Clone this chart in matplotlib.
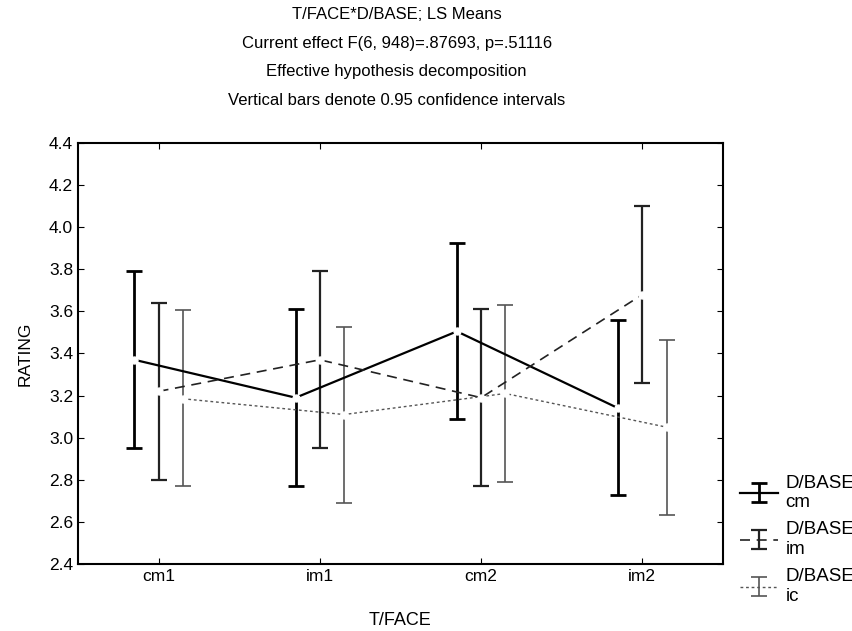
import matplotlib
matplotlib.use("Agg")
import matplotlib.pyplot as plt
import numpy as np

plt.rcParams['font.family'] = ['Liberation Sans', 'DejaVu Sans']

faces = ["cm1", "im1", "cm2", "im2"]

# D/BASE = cm
cm_mean = [3.37, 3.19, 3.505, 3.14]
cm_low = [2.95, 2.77, 3.09, 2.73]
cm_high = [3.79, 3.61, 3.925, 3.56]

# D/BASE = im
im_mean = [3.22, 3.37, 3.19, 3.68]
im_low = [2.80, 2.95, 2.77, 3.26]
im_high = [3.64, 3.79, 3.61, 4.10]

# D/BASE = ic
ic_mean = [3.185, 3.11, 3.21, 3.05]
ic_low = [2.77, 2.69, 2.79, 2.635]
ic_high = [3.605, 3.525, 3.63, 3.465]

x = np.arange(len(faces))

fig = plt.figure(figsize=(8.53, 6.31), dpi=100)
ax = fig.add_axes([0.0914, 0.1062, 0.7562, 0.6672])

series = [
    ("D/BASE\ncm", cm_mean, cm_low, cm_high, -0.15, '-', 1.6, 2.0, 'black'),
    ("D/BASE\nim", im_mean, im_low, im_high, 0.0, (0, (6, 4)), 1.2, 1.6, '#222222'),
    ("D/BASE\nic", ic_mean, ic_low, ic_high, 0.15, (0, (2, 2)), 1.0, 1.2, '#555555'),
]

for lab, m, lo, hi, off, ls, lw, elw, col in series:
    m = np.array(m)
    err = [m - np.array(lo), np.array(hi) - m]
    ax.errorbar(x + off, m, yerr=err, color=col, ls=ls, lw=lw,
                elinewidth=elw, capsize=5.5, capthick=elw, label=lab)
    # white gap around each mean, as in the original
    ax.plot(x + off, m, 'o', ms=5, mfc='white', mec='white', zorder=5)

ax.set_xlim(-0.5, 3.5)
ax.set_ylim(2.4, 4.4)
ax.set_yticks(np.arange(2.4, 4.41, 0.2))
ax.set_yticklabels([f"{v:.1f}" for v in np.arange(2.4, 4.41, 0.2)])
ax.set_xticks(x)
ax.set_xticklabels(faces)
ax.tick_params(direction='in', top=True, right=True, length=4, labelsize=12.5)
for s in ax.spines.values():
    s.set_linewidth(1.5)

ax.set_xlabel("T/FACE", fontsize=13, labelpad=20)
ax.set_ylabel("RATING", fontsize=12.5, labelpad=12)

titles = ["T/FACE*D/BASE; LS Means",
          "Current effect F(6, 948)=.87693, p=.51116",
          "Effective hypothesis decomposition",
          "Vertical bars denote 0.95 confidence intervals"]
ty = [0.977, 0.931, 0.886, 0.84]
for t, yy in zip(titles, ty):
    fig.text(0.465, yy, t, ha='center', va='center', fontsize=12)

leg = fig.legend(loc='upper left', bbox_to_anchor=(0.868, 0.248), frameon=False,
                 fontsize=13.5, handlelength=2.0, handletextpad=0.4,
                 labelspacing=0.55, borderaxespad=0, borderpad=0)

fig.savefig("out.png", dpi=100)
